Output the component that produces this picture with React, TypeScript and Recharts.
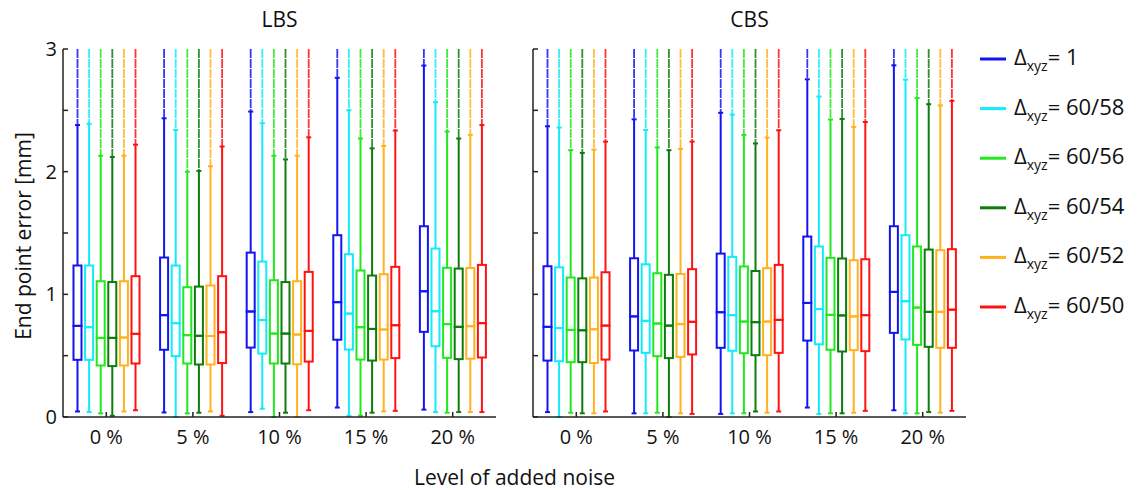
import { ComposedChart, Bar, XAxis, YAxis } from "recharts";

const FONT = "'Open Sans', sans-serif";
const Y_MAX = 3;
const BOX_STEP = 0.134; // spacing of boxes inside a noise group (in group units)

const noiseLevels = ["0 %", "5 %", "10 %", "15 %", "20 %"];
const seriesNames = ["1", "60/58", "60/56", "60/54", "60/52", "60/50"];
const seriesColors = ["#1414f0", "#12ecf8", "#22e81e", "#0c7c0c", "#ffb21c", "#ff1212"];
const yTicks = [0, 0.5, 1, 1.5, 2, 2.5, 3];

// LBS: one row per series, one value per noise level
const lbsHi = [
  [2.38, 2.435, 2.49, 2.765, 2.865],
  [2.39, 2.34, 2.395, 2.5, 2.566],
  [2.13, 2.0, 2.13, 2.27, 2.327],
  [2.12, 2.006, 2.1, 2.19, 2.27],
  [2.13, 2.044, 2.13, 2.21, 2.3],
  [2.22, 2.205, 2.28, 2.335, 2.38],
];
const lbsQ3 = [
  [1.235, 1.3, 1.34, 1.482, 1.555],
  [1.235, 1.235, 1.267, 1.327, 1.373],
  [1.107, 1.058, 1.115, 1.194, 1.216],
  [1.1, 1.063, 1.1, 1.153, 1.21],
  [1.107, 1.072, 1.107, 1.164, 1.215],
  [1.148, 1.148, 1.183, 1.224, 1.24],
];
const lbsMed = [
  [0.743, 0.83, 0.86, 0.936, 1.025],
  [0.732, 0.765, 0.79, 0.843, 0.862],
  [0.645, 0.667, 0.68, 0.732, 0.757],
  [0.645, 0.662, 0.68, 0.718, 0.735],
  [0.648, 0.66, 0.672, 0.713, 0.74],
  [0.678, 0.691, 0.702, 0.748, 0.765],
];
const lbsQ1 = [
  [0.466, 0.548, 0.566, 0.63, 0.694],
  [0.466, 0.496, 0.517, 0.55, 0.577],
  [0.42, 0.436, 0.436, 0.468, 0.482],
  [0.415, 0.428, 0.436, 0.46, 0.472],
  [0.42, 0.428, 0.43, 0.468, 0.475],
  [0.436, 0.44, 0.452, 0.48, 0.485],
];
const lbsLo = [
  [0.045, 0.037, 0.04, 0.077, 0.06],
  [0.04, 0.0, 0.067, 0.01, 0.04],
  [0.03, 0.03, 0.0, 0.01, 0.035],
  [0.01, 0.035, 0.035, 0.035, 0.04],
  [0.045, 0.045, 0.0, 0.045, 0.04],
  [0.055, 0.01, 0.055, 0.05, 0.04],
];

// CBS
const cbsHi = [
  [2.37, 2.427, 2.48, 2.753, 2.867],
  [2.36, 2.34, 2.465, 2.612, 2.75],
  [2.175, 2.197, 2.3, 2.425, 2.6],
  [2.153, 2.175, 2.23, 2.43, 2.55],
  [2.18, 2.186, 2.278, 2.365, 2.54],
  [2.245, 2.245, 2.337, 2.405, 2.577],
];
const cbsQ3 = [
  [1.229, 1.294, 1.332, 1.471, 1.555],
  [1.22, 1.245, 1.305, 1.39, 1.482],
  [1.137, 1.172, 1.227, 1.297, 1.39],
  [1.13, 1.159, 1.19, 1.292, 1.365],
  [1.137, 1.166, 1.213, 1.278, 1.36],
  [1.18, 1.205, 1.24, 1.286, 1.368],
];
const cbsMed = [
  [0.735, 0.82, 0.854, 0.93, 1.02],
  [0.725, 0.784, 0.83, 0.88, 0.944],
  [0.71, 0.762, 0.778, 0.833, 0.892],
  [0.707, 0.745, 0.773, 0.828, 0.857],
  [0.715, 0.757, 0.778, 0.82, 0.857],
  [0.745, 0.776, 0.792, 0.83, 0.875],
];
const cbsQ1 = [
  [0.46, 0.542, 0.564, 0.623, 0.686],
  [0.455, 0.523, 0.54, 0.593, 0.632],
  [0.447, 0.496, 0.52, 0.548, 0.588],
  [0.447, 0.48, 0.504, 0.534, 0.572],
  [0.44, 0.49, 0.504, 0.545, 0.564],
  [0.468, 0.51, 0.523, 0.537, 0.564],
];
const cbsLo = [
  [0.04, 0.03, 0.025, 0.077, 0.055],
  [0.0, 0.03, 0.03, 0.025, 0.03],
  [0.035, 0.035, 0.03, 0.03, 0.03],
  [0.03, 0.0, 0.045, 0.03, 0.04],
  [0.03, 0.03, 0.035, 0.035, 0.035],
  [0.045, 0.025, 0.045, 0.05, 0.05],
];

type Row = {
  pos: number;
  color: string;
  base: number;
  lw: number;
  lb: number;
  ub: number;
  uw: number;
  out: number;
};

function buildRows(lo: number[][], q1: number[][], med: number[][], q3: number[][], hi: number[][]) {
  const rows: Row[] = [];
  noiseLevels.forEach((_, g) => {
    seriesNames.forEach((_, s) => {
      rows.push({
        pos: g + 0.5 + (s - 2.5) * BOX_STEP,
        color: seriesColors[s],
        base: lo[s][g],
        lw: q1[s][g] - lo[s][g],
        lb: med[s][g] - q1[s][g],
        ub: q3[s][g] - med[s][g],
        uw: hi[s][g] - q3[s][g],
        out: Y_MAX - hi[s][g],
      });
    });
  });
  return rows;
}

const lbsRows = buildRows(lbsLo, lbsQ1, lbsMed, lbsQ3, lbsHi);
const cbsRows = buildRows(cbsLo, cbsQ1, cbsMed, cbsQ3, cbsHi);

const LowerWhisker = (p: any) => {
  const { x, y, width, height, payload } = p;
  const cx = x + width / 2;
  return (
    <g stroke={payload.color} strokeWidth={2}>
      <line x1={cx} x2={cx} y1={y} y2={y + height} />
      <line x1={cx - 2.5} x2={cx + 2.5} y1={y + height} y2={y + height} />
    </g>
  );
};

const UpperWhisker = (p: any) => {
  const { x, y, width, height, payload } = p;
  const cx = x + width / 2;
  return (
    <g stroke={payload.color} strokeWidth={2}>
      <line x1={cx} x2={cx} y1={y} y2={y + height} />
      <line x1={cx - 2.5} x2={cx + 2.5} y1={y} y2={y} />
    </g>
  );
};

const BoxHalf = (p: any) => {
  const { x, y, width, height, payload } = p;
  return (
    <rect
      x={x + 1}
      y={y}
      width={width - 2}
      height={height}
      fill="none"
      stroke={payload.color}
      strokeWidth={2}
    />
  );
};

// dense outlier markers above the upper whisker, drawn as a broken line
const Outliers = (p: any) => {
  const { x, y, width, height, payload } = p;
  const cx = x + width / 2;
  return (
    <line
      x1={cx}
      x2={cx}
      y1={y}
      y2={y + height}
      stroke={payload.color}
      strokeWidth={1.8}
      strokeOpacity={0.85}
      strokeDasharray="9 1"
    />
  );
};

function Panel({ rows, left, width, marginLeft, showYLabels }: { rows: Row[]; left: number; width: number; marginLeft: number; showYLabels: boolean }) {
  const tickStyle = { fontSize: 20, fill: "#111", fontFamily: FONT };
  return (
    <div style={{ position: "absolute", left, top: 0 }}>
      <ComposedChart
        width={width}
        height={490}
        data={rows}
        margin={{ top: 49, right: 24, bottom: 43, left: marginLeft }}
      >
        <XAxis
          dataKey="pos"
          type="number"
          domain={[0, 5]}
          ticks={[0.5, 1.5, 2.5, 3.5, 4.5]}
          tickFormatter={(v: number) => noiseLevels[Math.round(v - 0.5)]}
          height={30}
          tick={tickStyle}
          tickSize={-5}
          tickMargin={18}
          axisLine={{ stroke: "#222", strokeWidth: 1.5 }}
          tickLine={{ stroke: "#222", strokeWidth: 1.5 }}
        />
        <YAxis
          type="number"
          domain={[0, Y_MAX]}
          ticks={yTicks}
          tickFormatter={(v: number) => (showYLabels && Number.isInteger(v) ? String(v) : "")}
          width={30}
          tick={tickStyle}
          tickSize={-5}
          tickMargin={11}
          axisLine={{ stroke: "#222", strokeWidth: 1.5 }}
          tickLine={{ stroke: "#222", strokeWidth: 1.5 }}
        />
        <Bar dataKey="base" stackId="b" barSize={10} fill="none" isAnimationActive={false} />
        <Bar dataKey="lw" stackId="b" barSize={10} shape={LowerWhisker} isAnimationActive={false} />
        <Bar dataKey="lb" stackId="b" barSize={10} shape={BoxHalf} isAnimationActive={false} />
        <Bar dataKey="ub" stackId="b" barSize={10} shape={BoxHalf} isAnimationActive={false} />
        <Bar dataKey="uw" stackId="b" barSize={10} shape={UpperWhisker} isAnimationActive={false} />
        <Bar dataKey="out" stackId="b" barSize={10} shape={Outliers} isAnimationActive={false} />
      </ComposedChart>
    </div>
  );
}

function LegendBlock() {
  return (
    <svg width={175} height={300} style={{ position: "absolute", left: 970, top: 30 }}>
      {seriesNames.map((name, i) => {
        const cy = 29 + i * 49.6;
        return (
          <g key={name}>
            <line x1={10} x2={36} y1={cy} y2={cy} stroke={seriesColors[i]} strokeWidth={3} />
            <text x={44} y={cy + 6} fontFamily={FONT} fontSize={22} fill="#111">
              Δ
              <tspan fontSize={14} dy={6}>xyz</tspan>
              <tspan dy={-6}>{`= ${name}`}</tspan>
            </text>
          </g>
        );
      })}
    </svg>
  );
}

export default function App() {
  return (
    <div
      style={{
        position: "fixed",
        left: 0,
        top: 0,
        width: 1145,
        height: 490,
        background: "#fff",
        fontFamily: FONT,
      }}
    >
      <svg width={1145} height={490} style={{ position: "absolute", left: 0, top: 0 }}>
        <text x={279.5} y={27} textAnchor="middle" fontFamily={FONT} fontSize={21} fill="#111">
          LBS
        </text>
        <text x={749.5} y={27} textAnchor="middle" fontFamily={FONT} fontSize={21} fill="#111">
          CBS
        </text>
        <text
          x={0}
          y={0}
          transform="translate(31 236) rotate(-90)"
          textAnchor="middle"
          fontFamily={FONT}
          fontSize={21}
          fill="#111"
        >
          End point error [mm]
        </text>
        <text x={514.5} y={485} textAnchor="middle" fontFamily={FONT} fontSize={21} fill="#111">
          Level of added noise
        </text>
      </svg>
      <Panel rows={lbsRows} left={0} width={520} marginLeft={33} showYLabels={true} />
      <Panel rows={cbsRows} left={500} width={490} marginLeft={3} showYLabels={false} />
      <LegendBlock />
    </div>
  );
}
